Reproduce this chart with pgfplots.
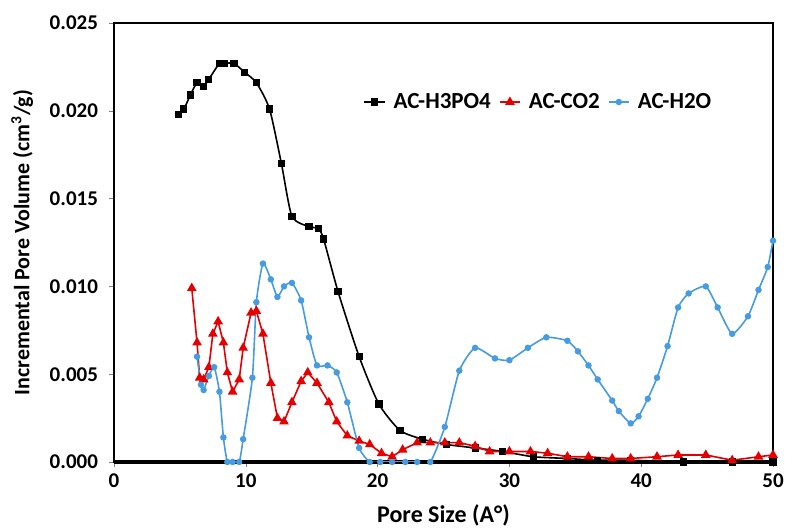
\documentclass[border=0pt]{standalone}
\usepackage{fontspec}
\setmainfont{Carlito}
\usepackage{pgfplots}
\pgfplotsset{compat=1.18}
\definecolor{cred}{RGB}{228,0,0}
\definecolor{cblue}{RGB}{70,155,225}
\begin{document}
\begin{tikzpicture}
\begin{axis}[
  name=ax,
  scale only axis,
  width=329.5pt, height=219.5pt,
  xmin=0, xmax=50, ymin=0, ymax=0.025,
  xtick={0,10,20,30,40,50},
  ytick={0,0.005,0.01,0.015,0.02,0.025},
  scaled y ticks=false,
  /pgf/number format/assume math mode=true,
  yticklabel style={/pgf/number format/.cd, fixed, fixed zerofill, precision=3},
  yticklabel shift=2pt,
  tick label style={font=\bfseries\fontsize{10.5}{12}\selectfont},
  label style={font=\bfseries\fontsize{11}{13}\selectfont},
  xlabel={Pore Size (A°)},
  ylabel={Incremental Pore Volume (cm\textsuperscript{3}/g)},
  xlabel style={yshift=-1.5pt, font=\bfseries\fontsize{12}{14}\selectfont},
  ylabel style={yshift=-5pt},
  tick align=outside,
  major tick length=2.5pt,
  xtick pos=bottom, ytick pos=left,
  axis line style={black, line width=0.6pt},
  extra y ticks={0}, extra y tick labels={},
  extra tick style={grid=major, grid style={black, line width=1.6pt}, major tick length=0pt},
  legend style={at={(0.369,0.82)}, anchor=west, draw=none, fill=none,
    font=\bfseries\fontsize{11.5}{13}\selectfont, column sep=2pt},
  legend columns=3,
  legend image code/.code={\draw[#1, mark repeat=2, mark phase=2] plot coordinates {(0cm,0cm) (0.18cm,0cm) (0.36cm,0cm)};},
  every axis plot/.append style={line width=0.8pt},
]
\addplot[black, mark=square*, mark size=1.4pt, smooth, tension=0.4] coordinates {
(4.9,0.0198)(5.3,0.0201)(5.8,0.0209)(6.3,0.0216)(6.8,0.0214)(7.2,0.0218)(8.0,0.0227)(8.4,0.0227)(9.1,0.0227)(9.9,0.0222)(10.8,0.0216)(11.8,0.0201)(12.7,0.0170)(13.5,0.0140)(14.8,0.0134)(15.5,0.0133)(15.9,0.0127)(17.0,0.0097)(18.6,0.0060)(20.1,0.0033)(21.7,0.0018)(23.4,0.0013)(25.2,0.0010)(27.4,0.0008)(29.5,0.0006)(31.8,0.0003)(34.4,0.0002)(36.7,0.0001)(39.2,0.0001)(43.2,0.0000)(46.9,0.0)(50,0.0)
};
\addlegendentry{AC-H3PO4}
\addplot[cred, mark=triangle*, mark size=2pt] coordinates {
(5.9,0.0099)(6.3,0.0068)(6.5,0.0048)(6.8,0.0047)(7.2,0.0054)(7.5,0.0073)(7.9,0.0080)(8.3,0.0068)(8.6,0.0051)(9.0,0.0040)(9.5,0.0047)(9.8,0.0065)(10.4,0.0085)(10.8,0.0086)(11.3,0.0073)(11.9,0.0045)(12.4,0.0025)(12.9,0.0023)(13.5,0.0034)(14.2,0.0046)(14.7,0.0051)(15.4,0.0045)(16.3,0.0034)(16.9,0.0023)(17.7,0.0015)(18.6,0.0012)(19.4,0.0010)(20.3,0.0005)(21.1,0.0003)(21.9,0.0007)(23.0,0.0011)(24.0,0.0011)(25.1,0.0011)(26.2,0.0011)(27.4,0.0009)(28.5,0.0006)(30.0,0.0006)(31.6,0.0006)(32.9,0.0005)(34.4,0.0003)(36.0,0.0003)(37.8,0.0002)(39.2,0.0002)(41.2,0.0003)(42.8,0.0004)(44.9,0.0004)(46.9,0.0001)(48.9,0.0003)(50,0.0004)
};
\addlegendentry{AC-CO2}
\addplot[cblue, mark=*, mark size=1.2pt, smooth, tension=0.35] coordinates {
(6.3,0.0060)(6.6,0.0044)(6.8,0.0041)(7.2,0.0049)(7.6,0.0054)(8.0,0.0040)(8.3,0.0014)(8.6,0)(9.0,0)(9.5,0)(9.8,0.0013)(10.5,0.0048)(10.8,0.0091)(11.3,0.0113)(11.9,0.0104)(12.4,0.0094)(12.9,0.0100)(13.5,0.0102)(14.2,0.0092)(14.8,0.0071)(15.4,0.0055)(16.2,0.0055)(16.9,0.0051)(17.7,0.0034)(18.6,0.0008)(19.4,0)(20.2,0)(21.1,0)(22.1,0)(23.0,0)(24.0,0)(25.1,0.0020)(26.2,0.0052)(27.4,0.0065)(28.9,0.0059)(30.0,0.0058)(31.4,0.0065)(32.8,0.0071)(34.4,0.0069)(35.2,0.0063)(36.0,0.0055)(36.7,0.0047)(37.8,0.0035)(38.3,0.0029)(39.2,0.0022)(39.8,0.0026)(40.5,0.0036)(41.2,0.0048)(42.0,0.0066)(42.8,0.0088)(43.6,0.0096)(44.9,0.0100)(45.8,0.0088)(46.9,0.0073)(48.1,0.0083)(48.9,0.0098)(49.6,0.0111)(50,0.0126)
};
\addlegendentry{AC-H2O}
\end{axis}
\pgfresetboundingbox
\path ([shift={(-57pt,-33pt)}]ax.south west) rectangle ([shift={(6pt,11.5pt)}]ax.north east);
\end{tikzpicture}
\end{document}
